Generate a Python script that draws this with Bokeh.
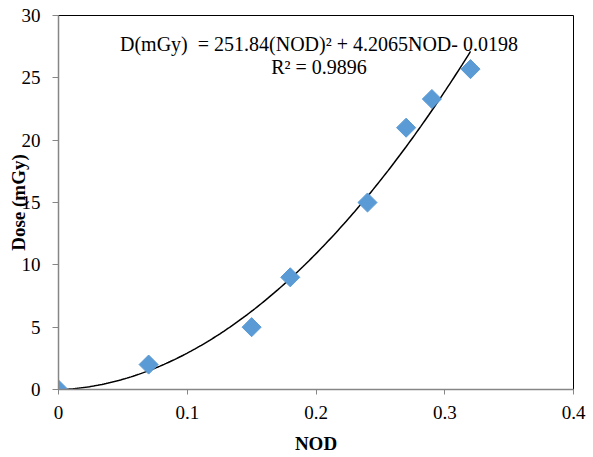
from bokeh.plotting import figure
from bokeh.models import Range1d, FixedTicker, NumeralTickFormatter, Label
from bokeh.embed import file_html
from bokeh.resources import INLINE
import numpy as np

# data
nod = [0.0, 0.07, 0.15, 0.18, 0.24, 0.27, 0.29, 0.32]
dose = [0.0, 2.0, 5.0, 9.0, 15.0, 21.0, 23.3, 25.7]
# trendline coefficients (from chart equation)
coef = [251.84, 4.2065, -0.0198]
x_ticks = [0, 0.1, 0.2, 0.3, 0.4]
y_ticks = [0, 5, 10, 15, 20, 25, 30]
eq_text = "D(mGy)\u00a0 = 251.84(NOD)\u00b2 + 4.2065NOD- 0.0198"
r2_text = "R\u00b2 = 0.9896"

FONT = "Liberation Serif"

p = figure(width=593, height=457, output_backend="svg", toolbar_location=None,
           x_range=Range1d(0, 0.4), y_range=Range1d(0, 30),
           min_border_left=58, min_border_right=20, min_border_top=15, min_border_bottom=68)
p.grid.visible = False
p.outline_line_color = "black"
p.outline_line_width = 1
p.background_fill_color = "white"
p.border_fill_color = "white"

for ax in (p.xaxis[0], p.yaxis[0]):
    ax.axis_line_color = "#868686"
    ax.axis_line_width = 1.5
    ax.major_tick_line_color = "#868686"
    ax.major_tick_in = 0
    ax.minor_tick_line_color = None
    ax.major_label_text_font = FONT
    ax.major_label_text_font_size = "19px"
    ax.major_label_text_color = "black"
    ax.axis_label_text_font = FONT
    ax.axis_label_text_font_size = "19px"
    ax.axis_label_text_font_style = "bold"
    ax.axis_label_text_color = "black"

p.xaxis.ticker = FixedTicker(ticks=x_ticks)
p.yaxis.ticker = FixedTicker(ticks=y_ticks)
p.xaxis.formatter = NumeralTickFormatter(format="0.[0]")
p.yaxis.formatter = NumeralTickFormatter(format="0")
p.xaxis.major_tick_out = 5
p.yaxis.major_tick_out = 6
p.xaxis.major_label_standoff = 11
p.yaxis.major_label_standoff = 12
p.xaxis.axis_label = "NOD"
p.yaxis.axis_label = "Dose (mGy)"
p.xaxis.axis_label_standoff = 11
p.yaxis.axis_label_standoff = -10

# trendline
xs = np.linspace(0, max(nod), 200)
ys = np.polyval(coef, xs)
p.line(xs, ys, line_color="black", line_width=1.5)

p.scatter(nod, dose, marker="square", size=13.5, angle=np.pi / 4,
          fill_color="#5B9BD5", line_color="#5B9BD5")

p.add_layout(Label(x=0.2023, y=27.75, text=eq_text, text_align="center",
                   text_baseline="alphabetic", text_font=FONT, text_font_size="20px",
                   text_color="black"))
p.add_layout(Label(x=0.2023, y=25.9, text=r2_text, text_align="center",
                   text_baseline="alphabetic", text_font=FONT, text_font_size="20px",
                   text_color="black"))

open("out.html", "w").write(file_html(p, INLINE))
